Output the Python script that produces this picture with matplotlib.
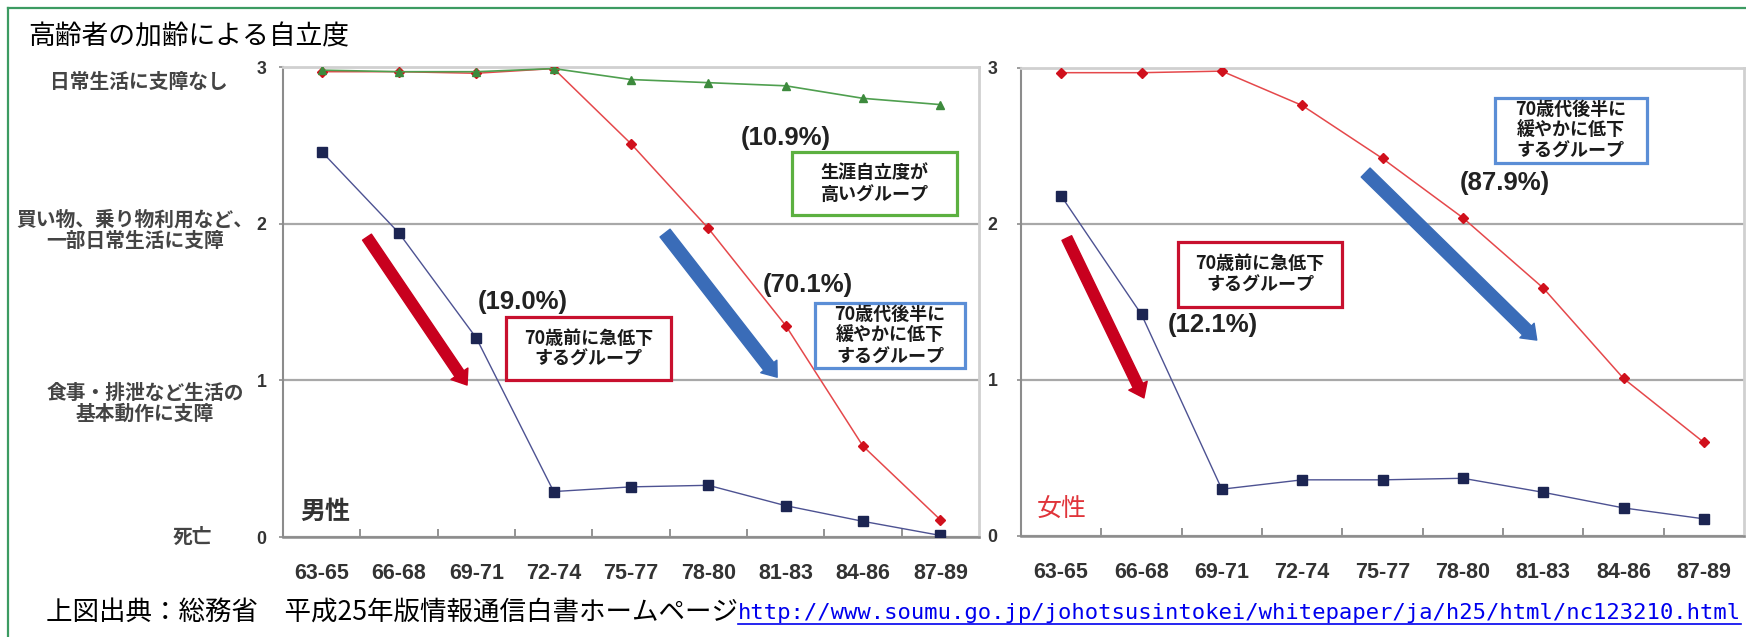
import numpy as np
import matplotlib
matplotlib.use("Agg")
import matplotlib.pyplot as plt
from matplotlib import font_manager
from matplotlib.lines import Line2D
from matplotlib.patches import Rectangle

# ==============================
# データ
# ==============================

edades = ["63-65", "66-68", "69-71", "72-74", "75-77", "78-80", "81-83", "84-86", "87-89"]
niveles = [0, 1, 2, 3]

# 男性
hombre_alto = [2.98, 2.97, 2.97, 2.99, 2.92, 2.90, 2.88, 2.80, 2.76]
hombre_medio = [2.97, 2.97, 2.96, 2.99, 2.51, 1.97, 1.35, 0.58, 0.11]
hombre_bajo = [2.46, 1.94, 1.27, 0.29, 0.32, 0.33, 0.20, 0.10, 0.01]

# 女性
mujer_medio = [2.97, 2.97, 2.98, 2.76, 2.42, 2.04, 1.59, 1.01, 0.60]
mujer_bajo = [2.18, 1.42, 0.30, 0.36, 0.36, 0.37, 0.28, 0.18, 0.11]

etiquetas_nivel = [
    "日常生活に支障なし",
    "買い物、乗り物利用など、\n一部日常生活に支障",
    "食事・排泄など生活の\n基本動作に支障",
    "死亡",
]

titulo = "高齢者の加齢による自立度"
fuente_texto = "上図出典：総務省　平成25年版情報通信白書ホームページ"
url = "http://www.soumu.go.jp/johotsusintokei/whitepaper/ja/h25/html/nc123210.html"

grupo_alto = "生涯自立度が\n高いグループ"
grupo_medio = "70歳代後半に\n緩やかに低下\nするグループ"
grupo_bajo = "70歳前に急低下\nするグループ"

pct_hombre = ["(10.9%)", "(70.1%)", "(19.0%)"]
pct_mujer = ["(87.9%)", "(12.1%)"]

# ==============================
# フォント・色
# ==============================

nombres = {f.name for f in font_manager.fontManager.ttflist}
fuente_num = "Liberation Sans Narrow" if "Liberation Sans Narrow" in nombres else "Liberation Sans"
plt.rcParams["font.family"] = ["Noto Sans CJK JP", "DejaVu Sans"]

c_azul_linea = "#4d5292"
c_azul_marca = "#1c2552"
c_rojo_linea = "#e5484b"
c_rojo_marca = "#d0101c"
c_verde_linea = "#4f9f4f"
c_verde_marca = "#3d8a3d"
c_flecha_roja = "#c8001e"
c_flecha_azul = "#3a6cb8"

W, H = 1746, 637
fig = plt.figure(figsize=(W / 100, H / 100), dpi=100)


def fx(x):
    return x / W


def fy(y):
    return 1 - y / H


ax_m = fig.add_axes([fx(283), fy(537), (979 - 283) / W, (537 - 67) / H])
ax_f = fig.add_axes([fx(1021), fy(536), (1744 - 1021) / W, (536 - 68) / H])


def estilo_eje(ax, pad_y):
    x = np.arange(len(edades))
    ax.set_xlim(-0.5, len(edades) - 0.5)
    ax.set_ylim(0, 3)
    ax.set_xticks(x)
    ax.set_xticklabels(edades)
    ax.set_xticks(x[:-1] + 0.5, minor=True)
    ax.tick_params(axis="x", which="major", length=0, pad=19, labelsize=15.5, labelcolor="#333333")
    ax.tick_params(axis="x", which="minor", direction="in", length=6, width=1.2, color="#808080")
    ax.set_yticks(niveles)
    ax.tick_params(axis="y", length=3, width=1.2, color="#8c8c8c", pad=pad_y, labelsize=12.8,
                   labelcolor="#333333")
    for lab in ax.get_xticklabels() + ax.get_yticklabels():
        lab.set_family(fuente_num)
        lab.set_weight("bold")
    ax.grid(axis="y", color="#a8a8a8", linewidth=1.6)
    ax.set_axisbelow(True)
    ax.spines["left"].set_color("#8c8c8c")
    ax.spines["left"].set_linewidth(1.5)
    ax.spines["bottom"].set_color("#8c8c8c")
    ax.spines["bottom"].set_linewidth(1.8)
    for s in ["top", "right"]:
        ax.spines[s].set_color("#d0d0d0")
        ax.spines[s].set_linewidth(2)


def caja(ax, x0, x1, y0, y1, texto, color):
    ax.add_patch(Rectangle((x0, y0), x1 - x0, y1 - y0, facecolor="white", edgecolor=color,
                           linewidth=2.3, zorder=5))
    ax.text((x0 + x1) / 2, (y0 + y1) / 2, texto, ha="center", va="center", fontsize=13,
            fontweight="bold", color="#1a1a1a", linespacing=1.15, zorder=6)


def flecha(ax, inicio, fin, color, ancho):
    ax.annotate("", xy=fin, xytext=inicio, zorder=4,
                arrowprops=dict(arrowstyle=f"simple,head_length=0.7,head_width=1.05,tail_width={ancho}",
                                color=color, mutation_scale=14, shrinkA=0, shrinkB=0))


def porcentaje(ax, x, y, texto):
    ax.text(x, y, texto, ha="center", va="center", fontsize=18.5, fontweight="bold",
            family=fuente_num, color="#222222", zorder=6)


x = np.arange(len(edades))

# ==============================
# 男性
# ==============================

estilo_eje(ax_m, 9)
ax_m.plot(x, hombre_medio, color=c_rojo_linea, lw=1.1, marker="D", ms=5,
          mfc=c_rojo_marca, mec=c_rojo_marca, zorder=3)
ax_m.plot(x, hombre_alto, color=c_verde_linea, lw=1.2, marker="^", ms=6,
          mfc=c_verde_marca, mec=c_verde_marca, zorder=3)
ax_m.plot(x, hombre_bajo, color=c_azul_linea, lw=1.0, marker="s", ms=6.8,
          mfc=c_azul_marca, mec=c_azul_marca, zorder=3)

porcentaje(ax_m, 6.0, 2.55, pct_hombre[0])
caja(ax_m, 6.08, 8.22, 2.055, 2.457, grupo_alto, "#5cb040")
porcentaje(ax_m, 6.29, 1.61, pct_hombre[1])
caja(ax_m, 6.38, 8.32, 1.078, 1.493, grupo_medio, "#5b8ed6")
flecha(ax_m, (4.44, 1.94), (5.89, 1.02), c_flecha_azul, 0.65)
caja(ax_m, 2.38, 4.52, 1.0, 1.404, grupo_bajo, "#c8102e")
porcentaje(ax_m, 2.60, 1.50, pct_hombre[2])
flecha(ax_m, (0.586, 1.914), (1.88, 0.97), c_flecha_roja, 0.55)
ax_m.text(-0.28, 0.16, "男性", ha="left", va="center", fontsize=18, fontweight="bold",
          color="#333333")

# ==============================
# 女性
# ==============================

estilo_eje(ax_f, 14)
ax_f.plot(x, mujer_medio, color=c_rojo_linea, lw=1.1, marker="D", ms=5,
          mfc=c_rojo_marca, mec=c_rojo_marca, zorder=3)
ax_f.plot(x, mujer_bajo, color=c_azul_linea, lw=1.0, marker="s", ms=6.8,
          mfc=c_azul_marca, mec=c_azul_marca, zorder=3)

caja(ax_f, 5.40, 7.29, 2.39, 2.81, grupo_medio, "#5b8ed6")
porcentaje(ax_f, 5.525, 2.26, pct_mujer[0])
flecha(ax_f, (3.79, 2.33), (5.92, 1.256), c_flecha_azul, 0.65)
caja(ax_f, 1.45, 3.50, 1.468, 1.885, grupo_bajo, "#c8102e")
porcentaje(ax_f, 1.89, 1.35, pct_mujer[1])
flecha(ax_f, (0.07, 1.91), (1.03, 0.885), c_flecha_roja, 0.55)
ax_f.text(-0.30, 0.167, "女性", ha="left", va="center", fontsize=18, color="#e0343a")

# ==============================
# 左側の説明ラベル
# ==============================

pos_etiquetas = [(139, 82), (135, 231), (145, 404), (192, 537)]
for texto, (px, py) in zip(etiquetas_nivel, pos_etiquetas):
    fig.text(fx(px), fy(py), texto, ha="center", va="center", fontsize=14.2,
             fontweight="bold", color="#444444", linespacing=1.15)

# ==============================
# タイトル・出典・枠
# ==============================

fig.text(fx(28), fy(37), titulo, ha="left", va="center", fontsize=19.3, color="black")

t_fuente = fig.text(fx(46), fy(613), fuente_texto, ha="left", va="center", fontsize=19.1,
                    color="black")
fig.canvas.draw()
bb = t_fuente.get_window_extent()
t_url = fig.text(bb.x1 / W, fy(613), url, ha="left", va="center", fontsize=16.0,
                 family="DejaVu Sans Mono", color="#0000ee")
fig.canvas.draw()
bu = t_url.get_window_extent()
fig.add_artist(Line2D([bu.x0 / W, bu.x1 / W], [bu.y0 / H - 0.002, bu.y0 / H - 0.002],
                      color="#0000ee", lw=1.2))

fig.add_artist(Line2D([fx(7.5), fx(7.5)], [fy(7.5), 0], color="#3c9b62", lw=1.6))
fig.add_artist(Line2D([fx(7.5), 1], [fy(7.5), fy(7.5)], color="#3c9b62", lw=1.6))

fig.savefig("out.png", dpi=100)
